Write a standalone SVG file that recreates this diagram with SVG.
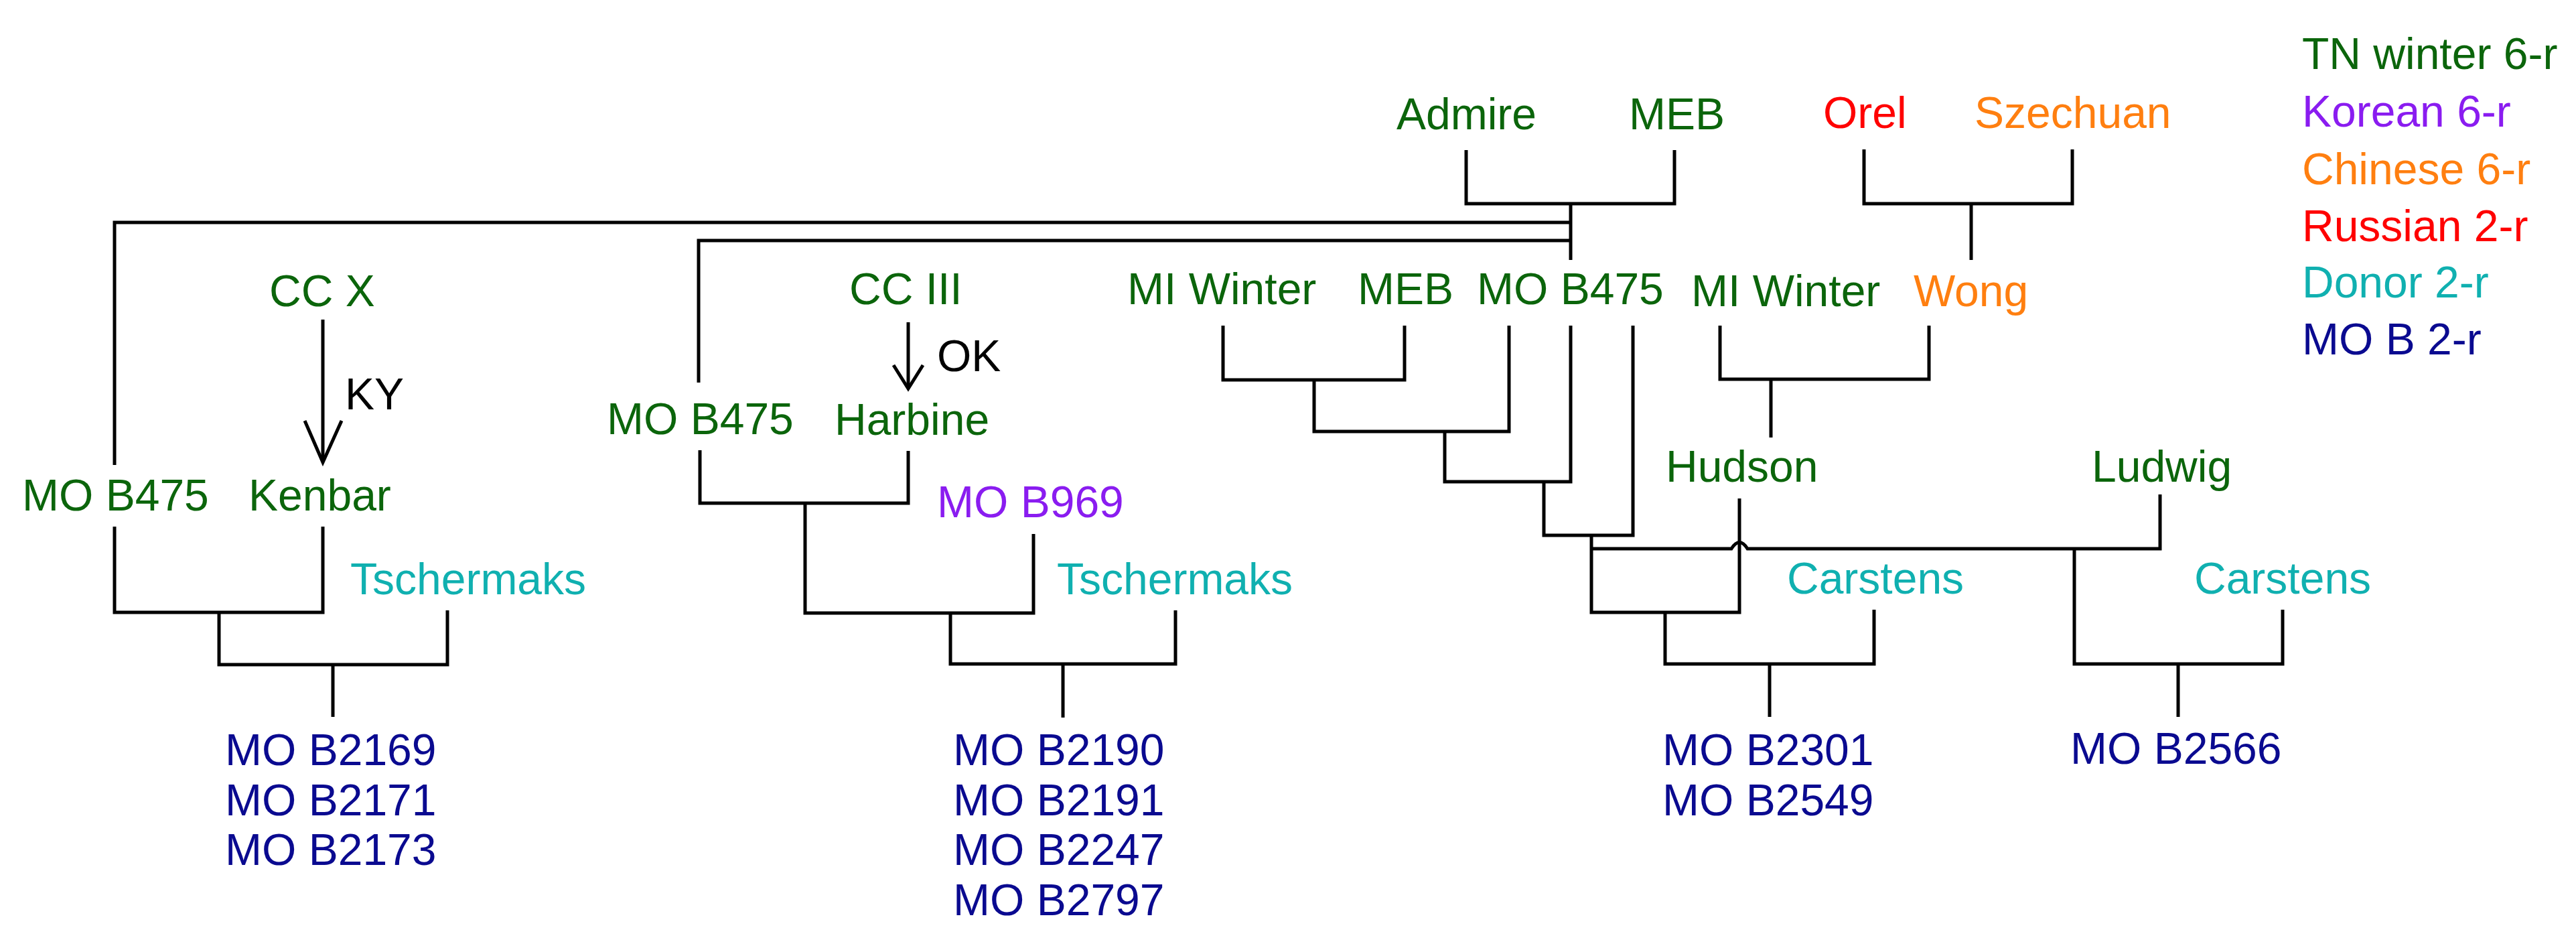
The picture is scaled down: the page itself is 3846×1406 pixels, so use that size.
<svg xmlns="http://www.w3.org/2000/svg" width="3846" height="1406" viewBox="0 0 3846 1406">
<style>
text{font-family:"Liberation Sans",Arial,sans-serif;font-size:66px}
.g{fill:#0b650b}.p{fill:#8a1cf0}.o{fill:#ff7f10}.r{fill:#ff0000}.t{fill:#10b0b0}.n{fill:#0a0a90}.k{fill:#000}
.c path,.c line{stroke:#000;stroke-width:5;fill:none}
</style>
<rect width="3846" height="1406" fill="#fff"/>
<g class="c" id="connectors">
<path d="M171 694V332H2345"/>
<path d="M1043 571V359H2345"/>
<path d="M2189 224V304H2500V224"/>
<path d="M2345 304V388"/>
<path d="M2783 223V304H3094V223"/>
<path d="M2943 304V388"/>
<line x1="482" y1="477" x2="482" y2="690"/>
<path d="M455 628L482 690L510 628"/>
<line x1="1356" y1="481" x2="1356" y2="578"/>
<path d="M1334 545L1356 580L1378 545"/>
<path d="M171 786V914H482V786"/>
<path d="M327 914V992H668V911"/>
<path d="M497 992V1070"/>
<path d="M1045 672V751H1356V673"/>
<path d="M1202 751V915H1543V797"/>
<path d="M1419 915V991H1755V911"/>
<path d="M1587 991V1071"/>
<path d="M1826 486V567H2097V486"/>
<path d="M1962 567V644H2253V486"/>
<path d="M2157 644V719H2345V486"/>
<path d="M2305 719V799H2438V486"/>
<path d="M2568 486V566H2880V486"/>
<path d="M2644 566V653"/>
<path d="M2376 799V914H2597V744"/>
<path d="M2377 819H2585Q2597 800 2609 819H3225V738"/>
<path d="M2486 914V991H2798V910"/>
<path d="M2642 991V1070"/>
<path d="M3097 819V991H3408V910"/>
<path d="M3252 991V1070"/>
</g>
<g id="n-admire"><text class="g" x="2085" y="193">Admire</text></g>
<g id="n-meb1"><text class="g" x="2432" y="193">MEB</text></g>
<g id="n-orel"><text class="r" x="2722" y="191">Orel</text></g>
<g id="n-szechuan"><text class="o" x="2948" y="191">Szechuan</text></g>
<g id="n-ccx"><text class="g" x="402" y="457">CC X</text></g>
<g id="n-ky"><text class="k" x="515" y="611">KY</text></g>
<g id="n-ccIII"><text class="g" x="1268" y="454">CC III</text></g>
<g id="n-ok"><text class="k" x="1399" y="554">OK</text></g>
<g id="n-miwinter1"><text class="g" x="1683" y="454">MI Winter</text></g>
<g id="n-meb2"><text class="g" x="2027" y="454">MEB</text></g>
<g id="n-mob475c"><text class="g" x="2205" y="454">MO B475</text></g>
<g id="n-miwinter2"><text class="g" x="2525" y="457">MI Winter</text></g>
<g id="n-wong"><text class="o" x="2857" y="457">Wong</text></g>
<g id="n-mob475a"><text class="g" x="33" y="762">MO B475</text></g>
<g id="n-kenbar"><text class="g" x="371" y="762">Kenbar</text></g>
<g id="n-mob475b"><text class="g" x="906" y="648">MO B475</text></g>
<g id="n-harbine"><text class="g" x="1246" y="649">Harbine</text></g>
<g id="n-mob969"><text class="p" x="1399" y="772">MO B969</text></g>
<g id="n-hudson"><text class="g" x="2487" y="719">Hudson</text></g>
<g id="n-ludwig"><text class="g" x="3123" y="719">Ludwig</text></g>
<g id="n-tsch1"><text class="t" x="523" y="887">Tschermaks</text></g>
<g id="n-tsch2"><text class="t" x="1578" y="887">Tschermaks</text></g>
<g id="n-carst1"><text class="t" x="2668" y="886">Carstens</text></g>
<g id="n-carst2"><text class="t" x="3276" y="886">Carstens</text></g>
<g id="n-out1"><text class="n" x="336" y="1142">MO B2169</text><text class="n" x="336" y="1217">MO B2171</text><text class="n" x="336" y="1291">MO B2173</text></g>
<g id="n-out2"><text class="n" x="1423" y="1142">MO B2190</text><text class="n" x="1423" y="1217">MO B2191</text><text class="n" x="1423" y="1291">MO B2247</text><text class="n" x="1423" y="1366">MO B2797</text></g>
<g id="n-out3"><text class="n" x="2482" y="1142">MO B2301</text><text class="n" x="2482" y="1217">MO B2549</text></g>
<g id="n-out4"><text class="n" x="3091" y="1140">MO B2566</text></g>
<g id="legend">
<text class="g" x="3437" y="103">TN winter 6-r</text>
<text class="p" x="3437" y="189">Korean 6-r</text>
<text class="o" x="3437" y="275">Chinese 6-r</text>
<text class="r" x="3437" y="360">Russian 2-r</text>
<text class="t" x="3437" y="444">Donor 2-r</text>
<text class="n" x="3437" y="529">MO B 2-r</text>
</g>
</svg>
